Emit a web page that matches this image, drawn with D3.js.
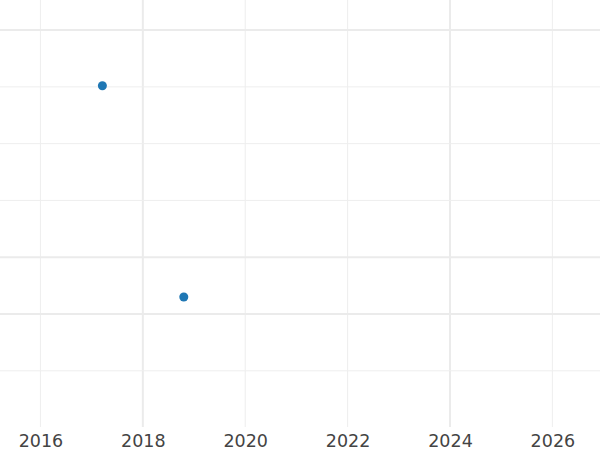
<!DOCTYPE html>
<html><head><meta charset="utf-8">
<script src="https://cdn.jsdelivr.net/npm/d3@7"></script>
<style>body{margin:0;background:#fff}svg{display:block}</style>
</head><body>
<script>
const xs = [2017.21, 2018.80];
const ys = [5.02, 1.30];
const xTicks = [2016, 2018, 2020, 2022, 2024, 2026];
const xMajor = [2018, 2024];
const yGrid = [0, 1, 2, 3, 4, 5, 6];
const yMajor = [1, 2, 6];

const W = 600, H = 450;
const svg = d3.select("body").append("svg").attr("width", W).attr("height", H);
const x = d3.scaleLinear().domain([2015.21, 2026.93]).range([0, W]);
const y = d3.scaleLinear().domain([-0.99, 6.53]).range([427, 0]);

const g = svg.append("g");
g.selectAll(".vg").data(xTicks).join("line")
  .attr("x1", d => x(d)).attr("x2", d => x(d)).attr("y1", 0).attr("y2", 427)
  .attr("stroke", d => xMajor.includes(d) ? "#ebebeb" : "#eeeeee")
  .attr("stroke-width", d => xMajor.includes(d) ? 2 : 1);
g.selectAll(".hg").data(yGrid).join("line")
  .attr("x1", 0).attr("x2", W).attr("y1", d => y(d)).attr("y2", d => y(d))
  .attr("stroke", d => yMajor.includes(d) ? "#ebebeb" : "#eeeeee")
  .attr("stroke-width", d => yMajor.includes(d) ? 2 : 1);

const ax = svg.append("g").attr("transform", "translate(0,427)")
  .call(d3.axisBottom(x).tickValues(xTicks).tickFormat(d3.format("d")).tickSize(0).tickPadding(8));
ax.select(".domain").remove();
ax.selectAll("text").attr("font-family", "DejaVu Sans").attr("font-size", 17.5).attr("fill", "#444");

svg.selectAll(".pt").data(xs.map((d, i) => [d, ys[i]])).join("circle")
  .attr("cx", d => x(d[0])).attr("cy", d => y(d[1])).attr("r", 4.5).attr("fill", "#1f77b4");
</script>
</body></html>
